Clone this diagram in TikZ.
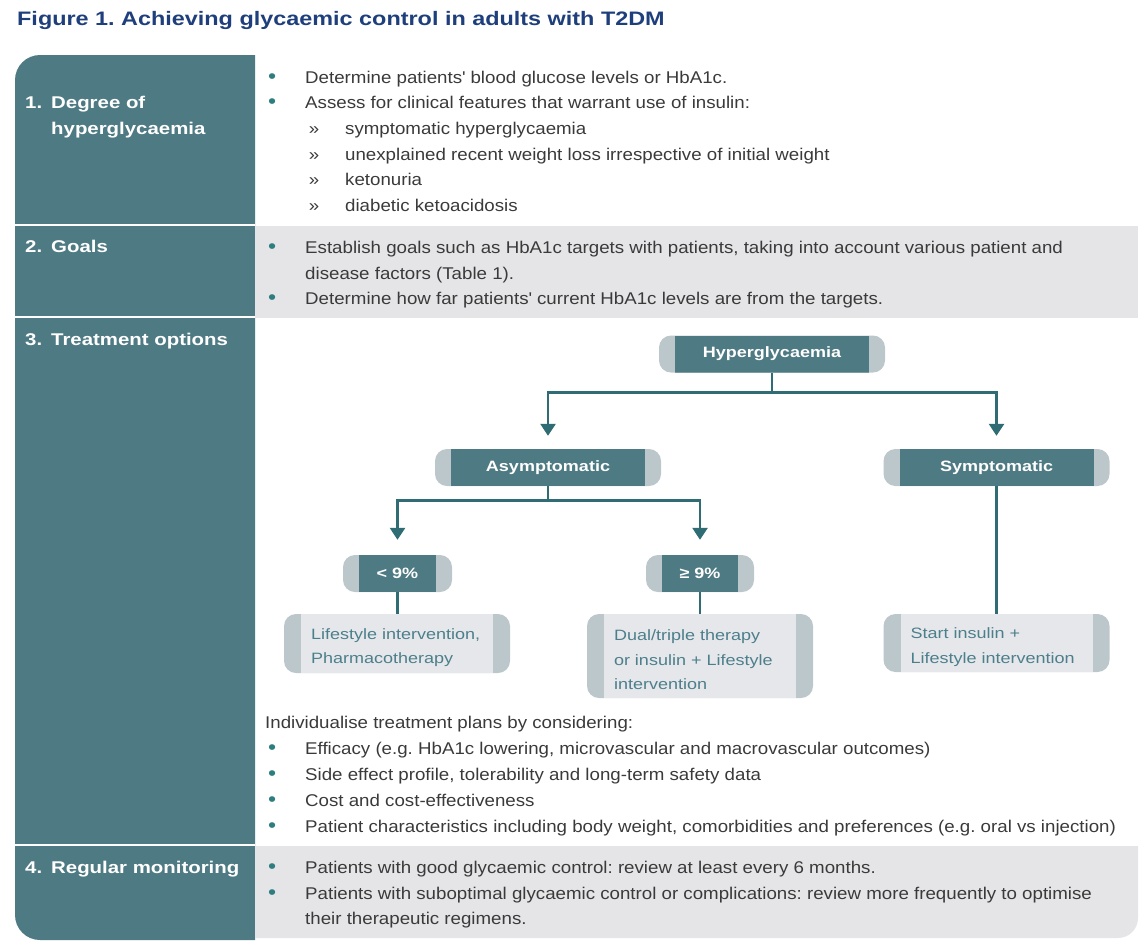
\documentclass[tikz,border=0pt]{standalone}
\usepackage{fontspec}
\setmainfont{Liberation Sans}[FakeStretch=1.2]
\newfontfamily\bodyfont{Liberation Sans}[FakeStretch=1.1]
\usetikzlibrary{arrows.meta, positioning}
\definecolor{tealc}{HTML}{4E7A83}
\definecolor{capgray}{HTML}{BCC7CB}
\definecolor{boxc}{HTML}{E6E7EA}
\definecolor{rowgray}{HTML}{E5E5E8}
\definecolor{linec}{HTML}{2F6C73}
\definecolor{dotc}{HTML}{2E7D80}
\definecolor{bodyc}{HTML}{3A3A3A}
\definecolor{boxtxt}{HTML}{4C7F8C}
\definecolor{titlec}{HTML}{1F3F7C}
\newcommand{\bul}{\llap{\textcolor{dotc}{\fontsize{21}{21}\selectfont •}\hspace{29pt}}}
\newcommand{\subbul}{\llap{»\hspace{26pt}}}
\newcommand{\lnum}[1]{\llap{#1\hspace{9pt}}}
\frenchspacing

\begin{document}
\begin{tikzpicture}[x=1pt, y=1pt, >={Triangle[width=15pt,length=12pt]},
    hd/.style={rounded corners=12pt, fill=capgray, minimum width=226pt,
        minimum height=37pt, text=white, font=\bfseries\fontsize{15}{18}\selectfont,
        path picture={\fill[tealc, sharp corners]
            ([xshift=16pt]path picture bounding box.south west) rectangle
            ([xshift=-16pt]path picture bounding box.north east);}},
    opt/.style={rounded corners=12pt, fill=capgray, minimum width=226pt,
        align=left, text width=172pt, text height=19pt, text=boxtxt,
        font=\fontsize{15}{24.5}\selectfont,
        path picture={\fill[boxc, sharp corners]
            ([xshift=17pt]path picture bounding box.south west) rectangle
            ([xshift=-17pt]path picture bounding box.north east);}},
    ln/.style={draw=linec, line width=2.6pt},
    txt/.style={anchor=base west, inner sep=0pt, text=bodyc,
        font=\bodyfont\fontsize{17}{25}\selectfont},
    lab/.style={anchor=base west, inner sep=0pt, text=white,
        font=\bfseries\fontsize{17}{25}\selectfont}]
    \useasboundingbox (0,0) rectangle (1142,-946);

    % background: left column and grey rows
    \fill[tealc] (255,-55) -- (40,-55) arc[start angle=90, end angle=180, radius=25]
        -- (15,-915) arc[start angle=180, end angle=270, radius=25] -- (255,-940) -- cycle;
    \fill[rowgray] (255,-226) rectangle (1138,-318);
    \fill[rowgray] (255,-846) -- (1138,-846) -- (1138,-918)
        arc[start angle=0, end angle=-90, radius=20] -- (255,-938) -- cycle;
    \foreach \yy in {-225,-317,-845}
        \draw[white, line width=1.5pt] (15,\yy) -- (255,\yy);

    \node[anchor=base west, inner sep=0pt, text=titlec,
        font=\bfseries\fontsize{19.5}{22}\selectfont] (title) at (17,-25)
        {Figure 1. Achieving glycaemic control in adults with T2DM};

    % left column labels
    \node[lab] (l1) at (51,-108) {\lnum{1.}Degree of};
    \node[lab] (l1b) at (51,-134) {hyperglycaemia};
    \node[lab] (l2) at (51,-252) {\lnum{2.}Goals};
    \node[lab] (l3) at (51,-345) {\lnum{3.}Treatment options};
    \node[lab] (l4) at (51,-873) {\lnum{4.}Regular monitoring};

    % row 1
    \node[txt] (d1) at (305,-83) {\bul Determine patients\textquotesingle\ blood glucose levels or HbA1c.};
    \node[txt] (d2) at (305,-108.5) {\bul Assess for clinical features that warrant use of insulin:};
    \node[txt] (d3) at (345,-134) {\subbul symptomatic hyperglycaemia};
    \node[txt] (d4) at (345,-160) {\subbul unexplained recent weight loss irrespective of initial weight};
    \node[txt] (d5) at (345,-185.5) {\subbul ketonuria};
    \node[txt] (d6) at (345,-211) {\subbul diabetic ketoacidosis};

    % row 2
    \node[txt] (g1) at (305,-253) {\bul Establish goals such as HbA1c targets with patients, taking into account various patient and};
    \node[txt] (g2) at (305,-279) {disease factors (Table 1).};
    \node[txt] (g3) at (305,-304) {\bul Determine how far patients\textquotesingle\ current HbA1c levels are from the targets.};

    % row 3: treatment tree
    \node[hd] (hyp) at (772,-354) {Hyperglycaemia};
    \node[hd] (asym) at (548,-467.5) {Asymptomatic};
    \node[hd] (sym) at (996.5,-467.5) {Symptomatic};
    \node[hd, minimum width=109pt] (lo) at (397.5,-573.5) {< 9\%};
    \node[hd, minimum width=108pt] (hi) at (700,-573.5) {≥ 9\%};
    \node[opt, minimum height=59pt] (o1) at (397,-643.5) {Lifestyle intervention,\\Pharmacotherapy};
    \node[opt, minimum height=84pt] (o2) at (700,-656) {Dual/triple therapy\\or insulin + Lifestyle\\intervention};
    \node[opt, minimum height=58pt] (o3) at (996.5,-643) {Start insulin +\\Lifestyle intervention};

    \draw[ln] (hyp.south) -- ++(0,-20) coordinate (j1);
    \draw[ln, ->, shorten >=13pt] (j1) -| (asym.north);
    \draw[ln, ->, shorten >=13pt] (j1) -| (sym.north);
    \draw[ln] (asym.south) -- ++(0,-14) coordinate (j2);
    \draw[ln, ->, shorten >=15pt] (j2) -| (lo.north);
    \draw[ln, ->, shorten >=15pt] (j2) -| (hi.north);
    \draw[ln] (lo.south) -- (lo.south |- o1.north);
    \draw[ln] (hi.south) -- (hi.south |- o2.north);
    \draw[ln] (sym.south) -- (sym.south |- o3.north);

    \node[txt] (c0) at (265,-728) {Individualise treatment plans by considering:};
    \node[txt] (c1) at (305,-754) {\bul Efficacy (e.g. HbA1c lowering, microvascular and macrovascular outcomes)};
    \node[txt] (c2) at (305,-780) {\bul Side effect profile, tolerability and long-term safety data};
    \node[txt] (c3) at (305,-806) {\bul Cost and cost-effectiveness};
    \node[txt] (c4) at (305,-832) {\bul Patient characteristics including body weight, comorbidities and preferences (e.g. oral vs injection)};

    % row 4
    \node[txt] (m1) at (305,-873) {\bul Patients with good glycaemic control: review at least every 6 months.};
    \node[txt] (m2) at (305,-899) {\bul Patients with suboptimal glycaemic control or complications: review more frequently to optimise};
    \node[txt] (m3) at (305,-924) {their therapeutic regimens.};
\end{tikzpicture}
\end{document}
